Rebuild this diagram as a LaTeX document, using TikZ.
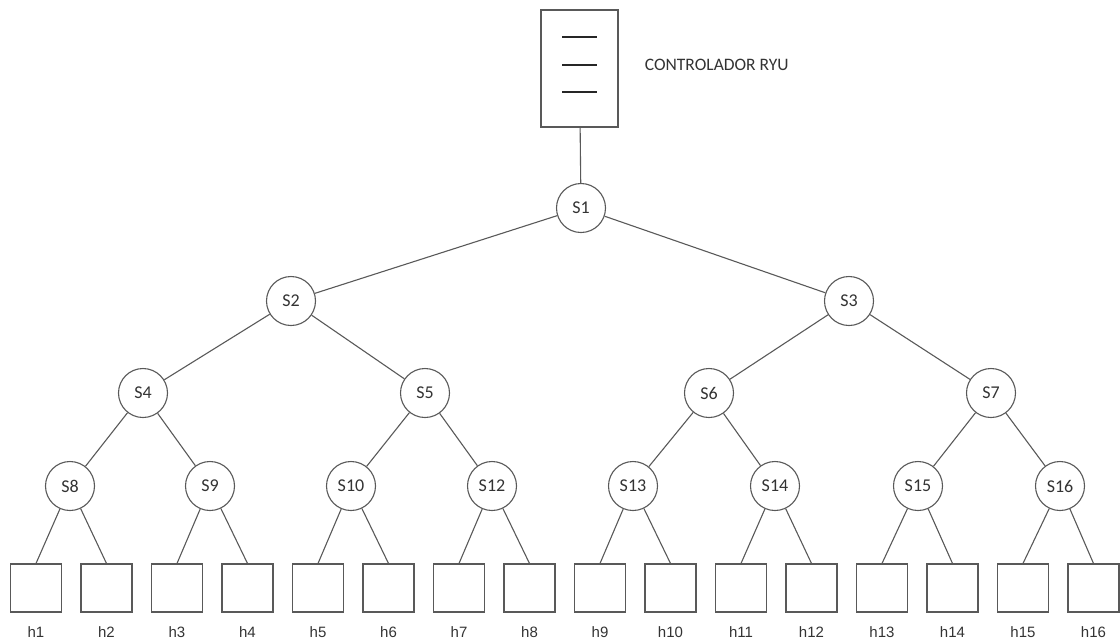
\documentclass[tikz,border=0pt]{standalone}
\usepackage{fontspec}
\setmainfont{Carlito}
\newfontfamily\hostfont{Liberation Sans}
\begin{document}
\begin{tikzpicture}[x=1pt,y=-1pt,
  line width=1.1pt,
  conn/.style={draw=black!65},
  sw/.style={circle,draw=black!65,fill=white,minimum size=49pt,inner sep=0pt,font=\fontsize{18}{18}\selectfont,text=black!80},
  host/.style={rectangle,draw=black!65,fill=white,minimum width=51pt,minimum height=48pt,inner sep=0pt},
  hlabel/.style={font=\hostfont\fontsize{15}{15}\selectfont,text=black!80},
  ctrl/.style={rectangle,draw=black!65,fill=white,minimum width=77pt,minimum height=117pt,inner sep=0pt},
  bar/.style={draw=black!85,line width=2pt}]
\useasboundingbox (0,0) rectangle (1120,641);
% controller
\node[ctrl] (ctrl) at (579.5,68.5) {};
\coordinate (b1l) at (562,37); \coordinate (b1r) at (597,37);
\coordinate (b2l) at (562,65); \coordinate (b2r) at (597,65);
\coordinate (b3l) at (562,92); \coordinate (b3r) at (597,92);
\draw[bar] (b1l) -- (b1r);
\draw[bar] (b2l) -- (b2r);
\draw[bar] (b3l) -- (b3r);
\node[anchor=west,font=\fontsize{17.5}{17.5}\selectfont,text=black!80] (ctrllabel) at (641,65) {CONTROLADOR RYU};
% switches
\node[sw] (s1) at (581,208) {S1};
\node[sw] (s2) at (291,301) {S2};
\node[sw] (s3) at (849,301) {S3};
\node[sw] (s4) at (143,393) {S4};
\node[sw] (s5) at (425,393) {S5};
\node[sw] (s6) at (709,393) {S6};
\node[sw] (s7) at (991,393) {S7};
\node[sw] (s8) at (70,486) {S8};
\node[sw] (s9) at (210,486) {S9};
\node[sw] (s10) at (351,486) {S10};
\node[sw] (s12) at (492,486) {S12};
\node[sw] (s13) at (633,486) {S13};
\node[sw] (s14) at (775,486) {S14};
\node[sw] (s15) at (918,486) {S15};
\node[sw] (s16) at (1060,486) {S16};
% hosts
\foreach \i in {1,...,16} {
  \node[host] (h\i) at ({36+70.5*(\i-1)},588) {};
  \node[hlabel] (hl\i) at ({36+70.5*(\i-1)},632) {h\i};
}
% connectors
\draw[conn] (ctrl) -- (s1);
\draw[conn] (s1) -- (s2);
\draw[conn] (s1) -- (s3);
\draw[conn] (s2) -- (s4);
\draw[conn] (s2) -- (s5);
\draw[conn] (s3) -- (s6);
\draw[conn] (s3) -- (s7);
\draw[conn] (s4) -- (s8);
\draw[conn] (s4) -- (s9);
\draw[conn] (s5) -- (s10);
\draw[conn] (s5) -- (s12);
\draw[conn] (s6) -- (s13);
\draw[conn] (s6) -- (s14);
\draw[conn] (s7) -- (s15);
\draw[conn] (s7) -- (s16);
\draw[conn] (s8) -- (h1.north);
\draw[conn] (s8) -- (h2.north);
\draw[conn] (s9) -- (h3.north);
\draw[conn] (s9) -- (h4.north);
\draw[conn] (s10) -- (h5.north);
\draw[conn] (s10) -- (h6.north);
\draw[conn] (s12) -- (h7.north);
\draw[conn] (s12) -- (h8.north);
\draw[conn] (s13) -- (h9.north);
\draw[conn] (s13) -- (h10.north);
\draw[conn] (s14) -- (h11.north);
\draw[conn] (s14) -- (h12.north);
\draw[conn] (s15) -- (h13.north);
\draw[conn] (s15) -- (h14.north);
\draw[conn] (s16) -- (h15.north);
\draw[conn] (s16) -- (h16.north);
\end{tikzpicture}
\end{document}
